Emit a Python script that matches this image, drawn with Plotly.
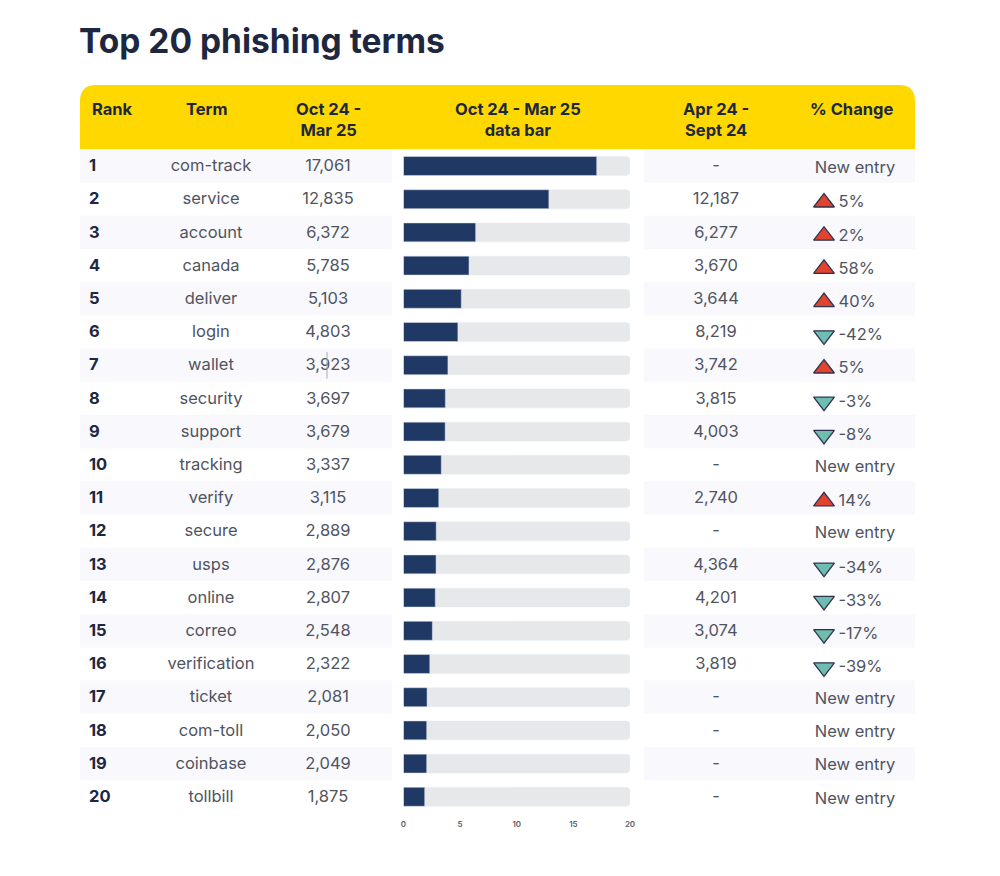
import plotly.graph_objects as go

# data
ranks = list(range(1, 21))
terms = ["com-track", "service", "account", "canada", "deliver", "login", "wallet", "security",
         "support", "tracking", "verify", "secure", "usps", "online", "correo", "verification",
         "ticket", "com-toll", "coinbase", "tollbill"]
current = [17061, 12835, 6372, 5785, 5103, 4803, 3923, 3697, 3679, 3337,
           3115, 2889, 2876, 2807, 2548, 2322, 2081, 2050, 2049, 1875]
previous = [None, 12187, 6277, 3670, 3644, 8219, 3742, 3815, 4003, None,
            2740, None, 4364, 4201, 3074, 3819, None, None, None, None]
change = [None, 5, 2, 58, 40, -42, 5, -3, -8, None,
          14, None, -34, -33, -17, -39, None, None, None, None]
bar_max = 20
bar_ticks = [0, 5, 10, 15, 20]
headers = [("Rank", 112), ("Term", 206), ("Oct 24 -<br>Mar 25", 328), ("Oct 24 - Mar 25<br>data bar", 518),
           ("Apr 24 -<br>Sept 24", 716), ("% Change", 851)]

W, H = 1000, 876
DARK = "#1d2840"
BODY = "#50545f"
FONT = "Inter"
TXT = 16.5

# pixel layout helpers
ROW0, ROWH = 166, 33.2
y_top = 1 - ROW0 / ROWH
y_bot = 1 + (H - ROW0) / ROWH

fig = go.Figure()

# bars, on their own small axis
fig.add_trace(go.Bar(x=[bar_max] * 20, y=ranks, orientation="h", width=0.57,
                     marker=dict(color="#e6e8ea", cornerradius=4), hoverinfo="skip"))
fig.add_trace(go.Bar(x=[v / 1000 for v in current], y=ranks, orientation="h", width=0.57,
                     marker=dict(color="#203864", cornerradius=4)))


def col(xpos, rows, labels, **kw):
    font = kw.pop("font", dict(family=FONT, size=TXT, color=BODY))
    pos = kw.pop("textposition", "middle center")
    fig.add_trace(go.Scatter(x=[xpos] * len(rows), y=rows, text=labels, mode="text", xaxis="x2",
                             textposition=pos, textfont=font, hoverinfo="skip"))


row_y = [r + 0.03 for r in ranks]
col(89, row_y, [f"<b>{r}</b>" for r in ranks], textposition="middle right",
    font=dict(family=FONT, size=TXT, color=DARK))
col(211, row_y, terms)
col(328, row_y, [f"{v:,}" for v in current])
col(716, row_y, [f"{v:,}" if v is not None else "-" for v in previous])

new_rows = [r for r, c in zip(ranks, change) if c is None]
col(855, [r + 0.08 for r in new_rows], ["New entry"] * len(new_rows))

ch_rows = [r for r, c in zip(ranks, change) if c is not None]
ch_vals = [c for c in change if c is not None]
col(838.5, [r + 0.12 for r in ch_rows], [f"{c}%" for c in ch_vals], textposition="middle right")

up = [r for r, c in zip(ch_rows, ch_vals) if c > 0]
down = [r for r, c in zip(ch_rows, ch_vals) if c < 0]
fig.add_trace(go.Scatter(x=[824] * len(up), y=[r + 0.1 for r in up], mode="markers", xaxis="x2", hoverinfo="skip",
                         marker=dict(symbol="triangle-up", size=18, color="#e2432f",
                                     line=dict(color="#2f3350", width=1.3))))
fig.add_trace(go.Scatter(x=[824] * len(down), y=[r + 0.1 for r in down], mode="markers", xaxis="x2", hoverinfo="skip",
                         marker=dict(symbol="triangle-down", size=18, color="#6fbdb0",
                                     line=dict(color="#2f3350", width=1.3))))

# row stripes, left and right of the bar column
shapes = []
for r in ranks[::2]:
    for x0, x1 in [(80, 392), (644, 915)]:
        shapes.append(dict(type="rect", xref="x2", yref="y", x0=x0, x1=x1, y0=r - 0.5, y1=r + 0.5,
                           fillcolor="#f8f8fd", line_width=0, layer="below"))

# yellow header with rounded top corners
def px(x):
    return x / W


def py(y):
    return 1 - y / H


header_path = (f"M {px(80)} {py(149)} L {px(80)} {py(101)} Q {px(80)} {py(85)} {px(96)} {py(85)} "
               f"L {px(899)} {py(85)} Q {px(915)} {py(85)} {px(915)} {py(101)} L {px(915)} {py(149)} Z")
shapes.append(dict(type="path", xref="paper", yref="paper", path=header_path, fillcolor="#ffd800",
                   line_width=0, layer="below"))
# stray cursor line in the wallet row
shapes.append(dict(type="line", xref="x2", yref="y", x0=327, x1=327, y0=6.6, y1=7.4,
                   line=dict(color="#a9adb5", width=1)))

annotations = [dict(text="<b>Top 20 phishing terms</b>", x=px(77), y=py(41), xref="paper", yref="paper",
                    xanchor="left", yanchor="middle", showarrow=False,
                    font=dict(family=FONT, size=33.5, color=DARK))]
for label, xpos in headers:
    annotations.append(dict(text="<b>" + label.replace("<br>", "</b><br><b>") + "</b>", x=px(xpos), y=py(97),
                            xref="paper", yref="paper", xanchor="center", yanchor="top", showarrow=False,
                            align="center", font=dict(family=FONT, size=TXT, color=DARK)))

fig.update_layout(
    width=W, height=H, margin=dict(l=0, r=0, t=0, b=0, autoexpand=False),
    paper_bgcolor="white", plot_bgcolor="rgba(0,0,0,0)",
    barmode="overlay", showlegend=False, shapes=shapes, annotations=annotations,
    xaxis=dict(domain=[403.5 / W, 630 / W], range=[0, bar_max], anchor="free", position=(H - 818) / H,
               tickvals=bar_ticks, showgrid=False, zeroline=False, showline=False, ticks="",
               tickfont=dict(family=FONT, size=8, color="#5c6069", weight=600)),
    xaxis2=dict(domain=[0, 1], range=[0, W], anchor="y", visible=False),
    yaxis=dict(domain=[0, 1], range=[y_bot, y_top], visible=False),
)

fig.write_html("out.html", config=dict(displayModeBar=False), post_script="document.body.style.margin='0';")
